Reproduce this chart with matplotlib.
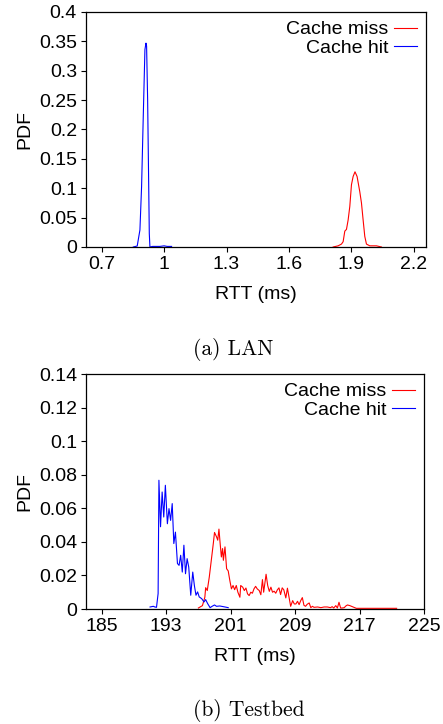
import matplotlib
matplotlib.use("Agg")
import matplotlib.pyplot as plt

# ---- LAN data (ms, pdf) ----
lan_hit_rtt = [0.852, 0.871, 0.884, 0.892, 0.900, 0.908, 0.913, 0.916, 0.921,
               0.926, 0.929, 0.932, 0.945, 0.960, 0.980, 1.000, 1.015, 1.036]
lan_hit_pdf = [0.0, 0.0017, 0.029, 0.103, 0.222, 0.336, 0.347, 0.342, 0.251,
               0.109, 0.023, 0.0, 0.001, 0.001, 0.001, 0.002, 0.001, 0.001]

lan_miss_rtt = [1.812, 1.836, 1.852, 1.860, 1.868, 1.876, 1.884, 1.892, 1.900,
                1.908, 1.917, 1.927, 1.940, 1.948, 1.956, 1.964, 1.972, 1.988,
                2.020, 2.044]
lan_miss_pdf = [0.0, 0.002, 0.005, 0.009, 0.027, 0.030, 0.046, 0.069, 0.106,
                0.120, 0.128, 0.120, 0.094, 0.075, 0.046, 0.018, 0.005, 0.002,
                0.002, 0.0]

# ---- Testbed data (ms, pdf) ----
tb_hit_rtt = [191.0, 191.4, 191.6, 191.8, 192.0, 192.1, 192.3, 192.5, 192.7,
              192.9, 193.15, 193.35, 193.55, 193.75, 193.95, 194.15, 194.4,
              194.6, 194.8, 195.0, 195.2, 195.4, 195.6, 195.8, 196.05, 196.3,
              196.5, 196.7, 196.9, 197.1, 197.4, 197.7, 197.9, 198.15, 198.45,
              198.7, 199.0, 199.25, 199.65, 200.3, 200.7]
tb_hit_pdf = [0.0012, 0.0016, 0.0012, 0.001, 0.0092, 0.0767, 0.049, 0.0697,
              0.0548, 0.0737, 0.0508, 0.0598, 0.0528, 0.0628, 0.039, 0.0458,
              0.0271, 0.026, 0.032, 0.022, 0.038, 0.021, 0.030, 0.025, 0.0082,
              0.022, 0.014, 0.0082, 0.0102, 0.0072, 0.0062, 0.0042, 0.0056,
              0.0032, 0.0008, 0.0016, 0.0024, 0.0016, 0.0018, 0.0012, 0.0008]

tb_miss_rtt = [197.0, 197.5, 197.8, 197.9, 198.1, 198.35, 198.65, 198.85, 199.0,
               199.25, 199.4, 199.55, 199.7, 199.85, 200.0, 200.1, 200.3, 200.5,
               200.7, 200.9, 201.1, 201.3, 201.5, 201.7, 201.9, 202.15, 202.25,
               202.5, 202.7, 202.9, 203.1, 203.3, 203.5, 203.7, 203.9, 204.1,
               204.3, 204.55, 204.75, 204.95, 205.1, 205.4, 205.6, 205.8, 206.0,
               206.2, 206.4, 206.6, 206.8, 207.0, 207.2, 207.4, 207.6, 207.85,
               208.05, 208.25, 208.45, 208.7, 208.9, 209.1, 209.3, 209.5, 209.7,
               209.9, 210.1, 210.3, 210.5, 210.75, 210.95, 211.15, 211.35, 211.8,
               212.2, 212.6, 213.0, 213.4, 213.6, 213.8, 214.05, 214.25, 214.45,
               214.65, 214.85, 215.1, 215.3, 215.5, 215.8, 216.2, 216.6, 217.0,
               221.6]
tb_miss_pdf = [0.0006, 0.002, 0.007, 0.0127, 0.011, 0.019, 0.031, 0.039, 0.0456,
               0.043, 0.041, 0.0476, 0.039, 0.031, 0.036, 0.029, 0.037, 0.024,
               0.0227, 0.017, 0.012, 0.014, 0.0115, 0.014, 0.010, 0.007, 0.014,
               0.013, 0.011, 0.0125, 0.009, 0.008, 0.010, 0.0094, 0.012, 0.0135,
               0.012, 0.011, 0.0085, 0.0175, 0.010, 0.0207, 0.014, 0.0105, 0.013,
               0.010, 0.0106, 0.0094, 0.0114, 0.0126, 0.0086, 0.0126, 0.0114,
               0.0066, 0.0124, 0.007, 0.0016, 0.005, 0.003, 0.003, 0.0046, 0.0026,
               0.005, 0.0068, 0.0022, 0.0016, 0.0028, 0.0036, 0.0008, 0.0016,
               0.001, 0.0012, 0.0008, 0.0012, 0.0012, 0.0008, 0.0014, 0.0006,
               0.002, 0.0006, 0.004, 0.0006, 0.0006, 0.0008, 0.0018, 0.0024,
               0.002, 0.0012, 0.0004, 0.0004, 0.0004]

lan_xticks = [0.7, 1.0, 1.3, 1.6, 1.9, 2.2]
lan_xticklabels = ["0.7", "1", "1.3", "1.6", "1.9", "2.2"]
lan_yticks = [0, 0.05, 0.1, 0.15, 0.2, 0.25, 0.3, 0.35, 0.4]
lan_yticklabels = ["0", "0.05", "0.1", "0.15", "0.2", "0.25", "0.3", "0.35", "0.4"]
tb_xticks = [185, 193, 201, 209, 217, 225]
tb_yticks = [0, 0.02, 0.04, 0.06, 0.08, 0.1, 0.12, 0.14]
tb_yticklabels = ["0", "0.02", "0.04", "0.06", "0.08", "0.1", "0.12", "0.14"]

FS = 14
plt.rcParams['font.family'] = ['Liberation Sans', 'DejaVu Sans']
plt.rcParams['font.size'] = FS

W, H = 443, 724
fig = plt.figure(figsize=(W / 100, H / 100), dpi=100)

def style(ax, width):
    ax.tick_params(direction='out', length=3.5, width=0.8, pad=3, labelsize=FS)
    for s in ax.spines.values():
        s.set_linewidth(0.9)
    ax.set_xlabel('RTT (ms)', labelpad=9)
    ax.set_ylabel('PDF')
    ax.yaxis.set_label_coords((33 - 86) / width, 0.5)
    ax.legend(loc='upper right', frameon=False, markerfirst=False, handlelength=1.2,
              handletextpad=0.3, labelspacing=0.05, borderaxespad=0.15,
              borderpad=0.3, fontsize=FS)

ax1 = fig.add_axes([86 / W, 1 - 247 / H, 340 / W, 235 / H])
ax1.plot(lan_miss_rtt, lan_miss_pdf, color='red', lw=0.8, label='Cache miss')
ax1.plot(lan_hit_rtt, lan_hit_pdf, color='blue', lw=0.8, label='Cache hit')
ax1.set_xlim(0.625, 2.258)
ax1.set_ylim(0, 0.4)
ax1.set_xticks(lan_xticks)
ax1.set_xticklabels(lan_xticklabels)
ax1.set_yticks(lan_yticks)
ax1.set_yticklabels(lan_yticklabels)
style(ax1, 340)

ax2 = fig.add_axes([86 / W, 1 - 609 / H, 338 / W, 235 / H])
ax2.plot(tb_miss_rtt, tb_miss_pdf, color='red', lw=0.8, label='Cache miss')
ax2.plot(tb_hit_rtt, tb_hit_pdf, color='blue', lw=0.8, label='Cache hit')
ax2.set_xlim(183.05, 225)
ax2.set_ylim(0, 0.14)
ax2.set_xticks(tb_xticks)
ax2.set_yticks(tb_yticks)
ax2.set_yticklabels(tb_yticklabels)
style(ax2, 338)

fig.text(193 / W, 1 - 350 / H, '(a) LAN', family='cmr10', fontsize=15.5,
         ha='left', va='center')
fig.text(193 / W, 1 - 711 / H, '(b) Testbed', family='cmr10', fontsize=15.5,
         ha='left', va='center')

fig.savefig('out.png', dpi=100)
